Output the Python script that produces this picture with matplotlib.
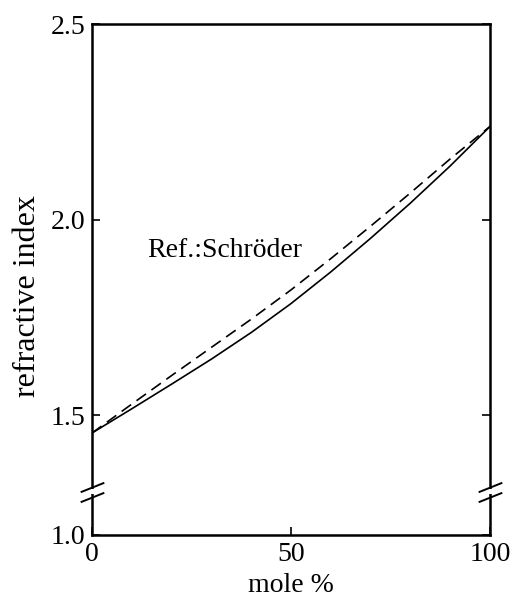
import numpy as np
import matplotlib.pyplot as plt

plt.rcParams['font.family'] = ['Liberation Serif', 'DejaVu Serif']

# ---- data ----
mole = [0, 10, 20, 30, 40, 50, 60, 70, 80, 90, 100]
n_solid = [1.454, 1.516, 1.579, 1.643, 1.711, 1.785, 1.866, 1.952, 2.042, 2.137, 2.238]
n_dashed = [1.454, 1.528, 1.601, 1.673, 1.745, 1.820, 1.900, 1.983, 2.068, 2.155, 2.238]

x_ticks = [0, 50, 100]
y_ticks = [1.0, 1.5, 2.0, 2.5]
y_ticklabels = ['1.0', '1.5', '2.0', '2.5']

# broken y axis: values below the cut are squeezed together
cut = 1.3
squeeze = 0.356


def fwd(y):
    y = np.asarray(y, dtype=float)
    return np.where(y >= cut, y, cut - (cut - y) * squeeze)


def inv(f):
    f = np.asarray(f, dtype=float)
    return np.where(f >= cut, f, cut - (cut - f) / squeeze)


fig = plt.figure(figsize=(5.12, 5.97), dpi=100)
ax = fig.add_axes([92 / 512, 1 - 535 / 597, 398 / 512, 511 / 597])
ax.set_yscale('function', functions=(fwd, inv))

ax.plot(mole, n_solid, color='black', lw=1.2)
ax.plot(mole, n_dashed, color='black', lw=1.2, dashes=(7, 4))

ax.set_xlim(0, 100)
ax.set_ylim(1.0, 2.5)
ax.set_xticks(x_ticks)
ax.set_yticks(y_ticks)
ax.set_yticklabels(y_ticklabels)
ax.tick_params(direction='in', length=6, width=1.2, labelsize=20,
               left=True, right=True, top=False, bottom=True)
ax.tick_params(axis='y', pad=5)
ax.tick_params(axis='x', pad=5)
for s in ax.spines.values():
    s.set_linewidth(1.8)

# break marks on both vertical spines
for xv in (0, 100):
    ax.plot([xv, xv], [1.2944, 1.3107], color='white', lw=4,
            clip_on=False, zorder=5, solid_capstyle='butt')
    for yv in (1.276, 1.317):
        ax.plot([xv], [yv], marker=[(-1, -0.4), (1, 0.4)], markersize=17,
                linestyle='none', color='black', mec='black', mew=1.4,
                clip_on=False, zorder=6)

ax.text(13.8, 1.904, 'Ref.:Schröder', fontsize=20, va='baseline', ha='left')

ax.set_xlabel('mole %', fontsize=20, labelpad=4)
ax.set_ylabel('refractive index', fontsize=23)
ax.yaxis.set_label_coords(-0.125, 0.468)

fig.savefig('out.png', dpi=100)
